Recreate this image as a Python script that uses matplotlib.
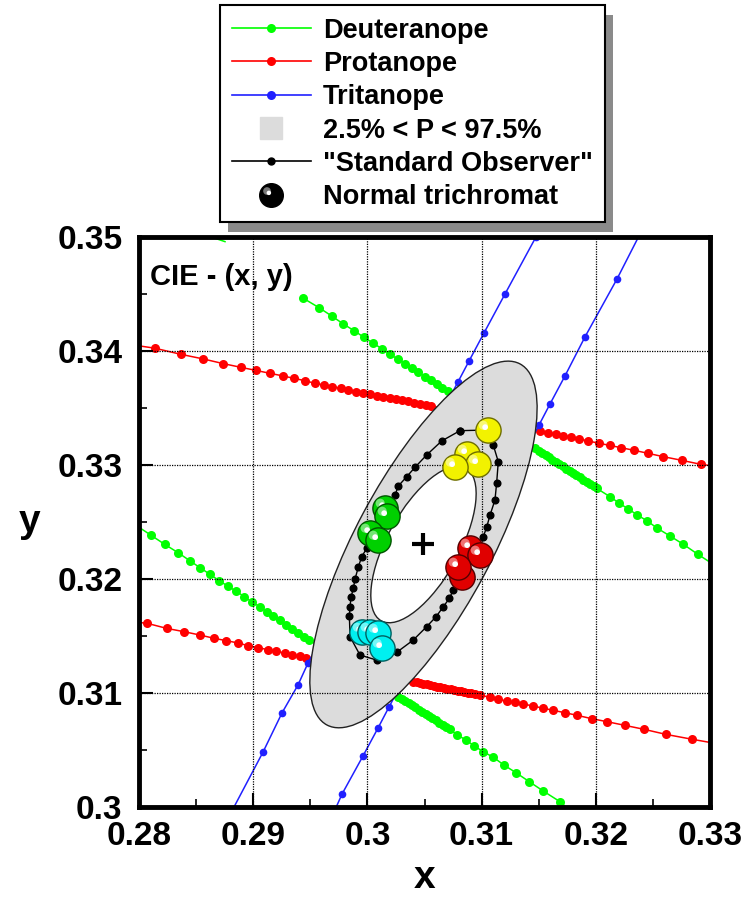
import numpy as np
import matplotlib.pyplot as plt
from matplotlib.patches import Ellipse, Rectangle
from matplotlib.lines import Line2D
from matplotlib.path import Path
from matplotlib.colors import to_rgb

plt.rcParams['font.family'] = ['Liberation Sans', 'DejaVu Sans']
plt.rcParams['font.weight'] = 'bold'

# ---- confusion lines ----
red_hi_x = [0.2790, 0.28140, 0.28365, 0.28563, 0.28738, 0.28890, 0.29022, 0.29147, 0.29261, 0.29357,
            0.29451, 0.29538, 0.29620, 0.29693, 0.29766, 0.29833, 0.29897, 0.29961, 0.30023, 0.30081,
            0.30140, 0.30195, 0.30251, 0.30306, 0.30359, 0.30411, 0.30461, 0.30511, 0.30557,
            0.31511, 0.31584, 0.31652, 0.31716, 0.31780, 0.31856, 0.31935, 0.32028, 0.32124, 0.32218,
            0.32335, 0.32454, 0.32591, 0.32752, 0.32918, 0.3315]
red_hi_y = [0.34060, 0.34024, 0.33971, 0.33930, 0.33889, 0.33857, 0.33830, 0.33804, 0.33781, 0.33760,
            0.33740, 0.33717, 0.33702, 0.33687, 0.33673, 0.33658, 0.33643, 0.33631, 0.33619, 0.33609,
            0.33598, 0.33587, 0.33577, 0.33567, 0.33557, 0.33547, 0.33538, 0.33528, 0.33520,
            0.33298, 0.33284, 0.33269, 0.33257, 0.33243, 0.33228, 0.33211, 0.33190, 0.33172, 0.33152,
            0.33129, 0.33103, 0.33073, 0.33041, 0.33006, 0.32975]

red_lo_x = [0.2790, 0.28073, 0.28242, 0.28394, 0.28531, 0.28657, 0.28765, 0.28867, 0.28957, 0.29045,
            0.29127, 0.29203, 0.29276, 0.29343, 0.29407, 0.29465,
            0.3040, 0.3043, 0.3046, 0.3049, 0.3052, 0.3055, 0.3058, 0.3061, 0.3064, 0.3067,
            0.3070, 0.3073, 0.3076, 0.3079, 0.3082, 0.3085, 0.3088, 0.3091, 0.3094, 0.30986,
            0.31074, 0.31146, 0.31219, 0.31292, 0.31365, 0.31448, 0.31535, 0.31628, 0.31730, 0.31838,
            0.31964, 0.32101, 0.32256, 0.32425, 0.32615, 0.32845, 0.3315]
red_lo_y = [0.31630, 0.31611, 0.31567, 0.31538, 0.31509, 0.31480, 0.31459, 0.31439, 0.31415, 0.31398,
            0.31380, 0.31366, 0.31351, 0.31336, 0.31322, 0.31310,
            0.31099, 0.31093, 0.31087, 0.31081, 0.31075, 0.31069, 0.31063, 0.31057, 0.31051, 0.31045,
            0.31039, 0.31033, 0.31027, 0.31021, 0.31015, 0.31009, 0.31003, 0.30997, 0.30991, 0.30982,
            0.30962, 0.30945, 0.30930, 0.30918, 0.30904, 0.30886, 0.30868, 0.30848, 0.30827, 0.30804,
            0.30775, 0.30748, 0.30716, 0.30681, 0.30637, 0.30594, 0.30540]

green_hi_x = [0.29439, 0.29576, 0.29687, 0.29789, 0.29883, 0.29970, 0.30052, 0.30128, 0.30198, 0.30265,
              0.30329, 0.30388, 0.30446, 0.30504, 0.30557, 0.30607, 0.30656, 0.30703,
              0.3147, 0.3150, 0.3153, 0.3156, 0.3159, 0.3162, 0.3165, 0.3168, 0.3171, 0.3174,
              0.3177, 0.3180, 0.3183, 0.3186, 0.3189, 0.3192, 0.3195, 0.3198,
              0.32008, 0.32124, 0.32206, 0.32285, 0.32364, 0.32446, 0.32539, 0.32650, 0.32767, 0.32893, 0.3315]
green_hi_y = [0.34462, 0.34380, 0.34307, 0.34237, 0.34178, 0.34120, 0.34068, 0.34018, 0.33971, 0.33930,
              0.33889, 0.33848, 0.33813, 0.33775, 0.33743, 0.33708, 0.33678, 0.33649,
              0.33145, 0.33125, 0.33106, 0.33086, 0.33067, 0.33047, 0.33028, 0.33008, 0.32989, 0.32969,
              0.32950, 0.32930, 0.32911, 0.32891, 0.32872, 0.32852, 0.32833, 0.32813,
              0.32795, 0.32722, 0.32664, 0.32614, 0.32561, 0.32512, 0.32445, 0.32377, 0.32304, 0.32217, 0.32050]
green_frag_x = [0.28622, 0.28753]
green_frag_y = [0.35003, 0.34959]

green_lo_x = [0.2790, 0.28102, 0.28225, 0.28342, 0.28444, 0.28534, 0.28622, 0.28701, 0.28776, 0.28852,
              0.28922, 0.28992, 0.29057, 0.29118, 0.29176, 0.29235, 0.29290, 0.29343, 0.29395, 0.29445,
              0.29489,
              0.3027, 0.3030, 0.3033, 0.3036, 0.3039, 0.3042, 0.3045, 0.3048, 0.3051, 0.3054,
              0.3057, 0.3060, 0.3063, 0.3066, 0.3069,
              0.30723, 0.30787, 0.30863, 0.30936, 0.31015, 0.31103, 0.31196, 0.31301, 0.31418, 0.31540,
              0.31686, 0.3180]
green_lo_y = [0.32520, 0.32386, 0.32304, 0.32231, 0.32161, 0.32099, 0.32041, 0.31985, 0.31939, 0.31892,
              0.31845, 0.31796, 0.31757, 0.31713, 0.31675, 0.31637, 0.31599, 0.31561, 0.31526, 0.31494,
              0.31465,
              0.30969, 0.30950, 0.30931, 0.30912, 0.30893, 0.30873, 0.30854, 0.30835, 0.30816, 0.30797,
              0.30778, 0.30759, 0.30740, 0.30721, 0.30702,
              0.30681, 0.30632, 0.30588, 0.30535, 0.30485, 0.30436, 0.30368, 0.30301, 0.30222, 0.30140,
              0.30047, 0.29940]

blue_l_x = [0.2870, 0.29086, 0.29252, 0.29392, 0.29480, 0.30793, 0.30890, 0.31021, 0.31205, 0.31476]
blue_l_y = [0.29750, 0.30482, 0.30825, 0.31070, 0.31263, 0.33728, 0.33912, 0.34158, 0.34500, 0.35000]
blue_r_x = [0.2966, 0.29778, 0.29961, 0.30093, 0.30189, 0.31503, 0.31599, 0.31730, 0.31905, 0.32186, 0.3245]
blue_r_y = [0.29850, 0.30114, 0.30447, 0.30693, 0.30877, 0.33351, 0.33535, 0.33781, 0.34123, 0.34632, 0.35150]

# ---- "standard observer" closed curve ----
so_x = [0.30811, 0.30651, 0.30519, 0.30417, 0.30344, 0.30271, 0.30242, 0.30198, 0.30128, 0.30060,
        0.29994, 0.29950, 0.29920, 0.29891, 0.29877, 0.29856, 0.29848, 0.29842, 0.29848, 0.29935,
        0.30081, 0.30257, 0.30402, 0.30519, 0.30601, 0.30665, 0.30717, 0.30752, 0.30811, 0.30898,
        0.31015, 0.31045, 0.31074, 0.31117, 0.31132, 0.31146, 0.31102, 0.31059, 0.30811]
so_y = [0.33301, 0.33211, 0.33088, 0.32980, 0.32897, 0.32816, 0.32737, 0.32678, 0.32535, 0.32400,
        0.32268, 0.32196, 0.32103, 0.31997, 0.31918, 0.31839, 0.31757, 0.31675, 0.31494, 0.31333,
        0.31289, 0.31357, 0.31465, 0.31582, 0.31669, 0.31757, 0.31829, 0.31904, 0.32035, 0.32211,
        0.32371, 0.32457, 0.32561, 0.32693, 0.32845, 0.33029, 0.33175, 0.33307, 0.33301]

# ---- normal trichromats ----
yellow_x = [0.30869, 0.30971, 0.30767, 0.31059]
yellow_y = [0.33094, 0.33006, 0.32985, 0.33307]
green_b_x = [0.30154, 0.30169, 0.30023, 0.30096]
green_b_y = [0.32620, 0.32553, 0.32400, 0.32342]
red_b_x = [0.30898, 0.30986, 0.30826, 0.30796]
red_b_y = [0.32268, 0.32211, 0.32020, 0.32108]
cyan_b_x = [0.29950, 0.30023, 0.30096, 0.30125]
cyan_b_y = [0.31538, 0.31538, 0.31524, 0.31392]

# ---- percentile region (outer / inner ellipse) ----
centre = (0.30491, 0.32303)
outer_axes = (0.0359, 0.0119)
outer_angle = 61.9
inner_axes = (0.0153, 0.0063)
inner_angle = 61.1

ticks = [0.28, 0.29, 0.30, 0.31, 0.32, 0.33]
tick_labels = ['0.28', '0.29', '0.3', '0.31', '0.32', '0.33']
yticks = [0.30, 0.31, 0.32, 0.33, 0.34, 0.35]
ytick_labels = ['0.3', '0.31', '0.32', '0.33', '0.34', '0.35']

GREEN = '#00ff00'
RED = '#ff0000'
BLUE = '#2020ff'

fig = plt.figure(figsize=(7.53, 9.01), dpi=100)
ax = fig.add_axes([0.1846, 0.1043, 0.7583, 0.6327])
ax.set_xlim(0.28, 0.33)
ax.set_ylim(0.30, 0.35)

line_kw = dict(lw=1.1, marker='o', markeredgewidth=0, zorder=1.5)
ax.plot(red_hi_x, red_hi_y, color=RED, markersize=6.5, **line_kw)
ax.plot(red_lo_x, red_lo_y, color=RED, markersize=6.5, **line_kw)
ax.plot(green_hi_x, green_hi_y, color=GREEN, markersize=6.5, **line_kw)
ax.plot(green_lo_x, green_lo_y, color=GREEN, markersize=6.5, **line_kw)
ax.plot(green_frag_x, green_frag_y, color=GREEN, lw=1.1, zorder=1.5)
ax.plot(blue_l_x, blue_l_y, color=BLUE, markersize=5.5, **line_kw)
ax.plot(blue_r_x, blue_r_y, color=BLUE, markersize=5.5, **line_kw)

ax.add_patch(Ellipse(centre, outer_axes[0], outer_axes[1], angle=outer_angle,
                     facecolor='#dcdcdc', edgecolor='#222222', lw=1.0, zorder=2))
ax.add_patch(Ellipse(centre, inner_axes[0], inner_axes[1], angle=inner_angle,
                     facecolor='white', edgecolor='#222222', lw=1.0, zorder=2.1))

ax.plot(so_x, so_y, color='black', lw=1.0, marker='o', markersize=4.8, zorder=3)
ax.plot(*centre, marker='+', color='black', markersize=16, mew=3, zorder=3)

# sphere look: base disc, lighter offset disc, small white highlight
hl_path = Path.circle(center=(-0.35, 0.35), radius=0.3)


def blend(c, f):
    r, g, b = to_rgb(c)
    return (r + (1 - r) * f, g + (1 - g) * f, b + (1 - b) * f)


def balls(xs, ys, color, edge, z):
    for i, (x, y) in enumerate(zip(xs, ys)):
        zz = z + i * 0.01
        ax.scatter([x], [y], s=330, color=color, edgecolors=edge, linewidths=1.0, zorder=zz)
        ax.scatter([x], [y], s=200, marker=hl_path, color=blend(color, 0.45), linewidths=0, zorder=zz + 0.001)
        ax.scatter([x], [y], s=80, marker=hl_path, color='white', linewidths=0, zorder=zz + 0.002)


balls(yellow_x, yellow_y, '#f2f200', '#6e6e00', 5)
balls(green_b_x, green_b_y, '#00d000', '#005500', 5.1)
balls(red_b_x, red_b_y, '#e00000', '#550000', 5.2)
balls(cyan_b_x, cyan_b_y, '#00f0f0', '#006060', 5.3)

ax.set_xticks(ticks)
ax.set_xticklabels(tick_labels)
ax.set_yticks(yticks)
ax.set_yticklabels(ytick_labels)
ax.set_xticks([0.285, 0.295, 0.305, 0.315, 0.325], minor=True)
ax.set_yticks([0.305, 0.315, 0.325, 0.335, 0.345], minor=True)
ax.tick_params(which='major', direction='in', length=10, width=1.5, labelsize=24)
ax.tick_params(which='minor', direction='in', length=6, width=1.2)
ax.tick_params(axis='x', pad=10)
ax.tick_params(axis='y', pad=12)
for lab in ax.get_xticklabels() + ax.get_yticklabels():
    lab.set_fontweight('bold')
ax.grid(True, which='major', color='black', ls=(0, (1, 1)), lw=0.9, zorder=2.5)
ax.set_axisbelow(False)
for sp in ax.spines.values():
    sp.set_linewidth(3.5)
    sp.set_zorder(10)

ax.set_xlabel('x', fontsize=28, fontweight='bold', labelpad=6)
ax.set_ylabel('y', fontsize=28, fontweight='bold', rotation=0, labelpad=20, va='center')
ax.text(0.02, 0.93, 'CIE - (x, y)', transform=ax.transAxes, fontsize=21, fontweight='bold',
        va='center', ha='left', zorder=8)

# legend
ball_handle = (
    Line2D([], [], ls='none', marker='o', markersize=17, color='black', markeredgecolor='black'),
    Line2D([], [], ls='none', marker=hl_path, markersize=12, color='#777777', markeredgewidth=0),
    Line2D([], [], ls='none', marker=hl_path, markersize=7, color='white', markeredgewidth=0),
)
handles = [
    Line2D([], [], color=GREEN, lw=1.2, marker='o', markersize=6.5, markeredgewidth=0),
    Line2D([], [], color=RED, lw=1.2, marker='o', markersize=6.5, markeredgewidth=0),
    Line2D([], [], color=BLUE, lw=1.2, marker='o', markersize=6.5, markeredgewidth=0),
    Line2D([], [], ls='none', marker='s', markersize=16, color='#dcdcdc'),
    Line2D([], [], color='black', lw=1.2, marker='o', markersize=5),
    ball_handle,
]
labels = ['Deuteranope', 'Protanope', 'Tritanope', '2.5% < P < 97.5%',
          '"Standard Observer"', 'Normal trichromat']
leg = fig.legend(handles, labels, loc='upper left', bbox_to_anchor=(0.292, 0.994),
                 fontsize=19.5, frameon=True, fancybox=False, edgecolor='black',
                 facecolor='white', framealpha=1.0,
                 handlelength=2.9, handletextpad=0.45, labelspacing=0.27,
                 borderpad=0.45, borderaxespad=0)
leg.get_frame().set_linewidth(1.5)
leg.set_zorder(20)

fig.canvas.draw()
bb = leg.get_window_extent().transformed(fig.transFigure.inverted())
dx, dy = 8 / 753, 10 / 901
fig.patches.append(Rectangle((bb.x0 + dx, bb.y0 - dy), bb.width, bb.height,
                             transform=fig.transFigure, facecolor='#8a8a8a',
                             edgecolor='none', zorder=1))

fig.savefig('out.png', dpi=100)
